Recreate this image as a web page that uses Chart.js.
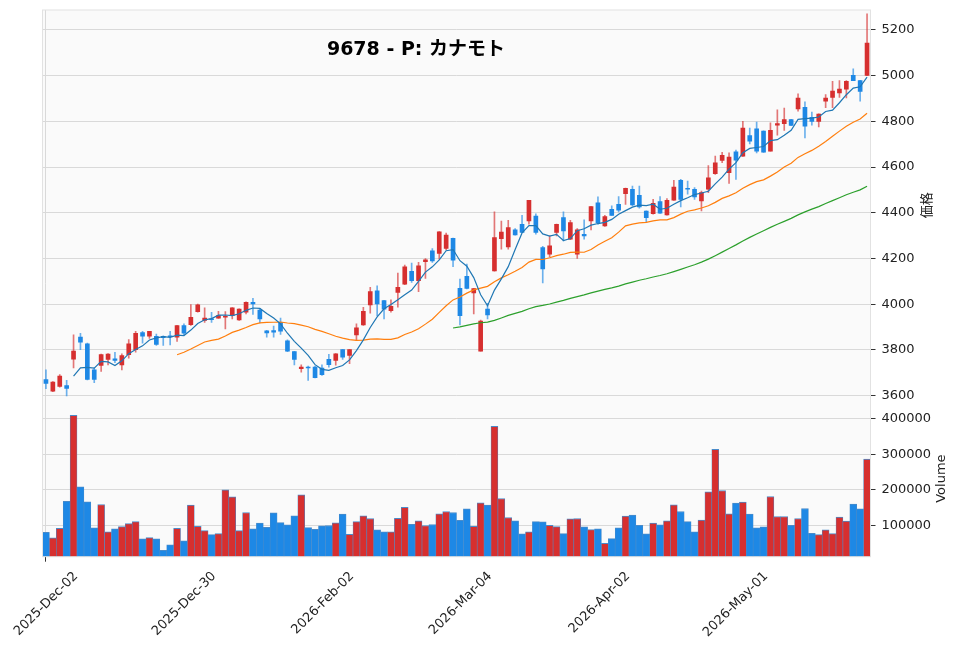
<!DOCTYPE html>
<html>
<head>
<meta charset="utf-8">
<title>9678 - P: カナモト</title>
<script src="https://cdn.jsdelivr.net/npm/chart.js@4.4.1/dist/chart.umd.min.js"></script>
<style>
    html, body { margin: 0; padding: 0; background: #ffffff; }
    canvas { display: block; }
</style>
</head>
<body>
<canvas id="myChart" width="960" height="651"></canvas>
<script>
var chartTitle = '9678 - P: カナモト';
var priceLabel = '価格';
var volumeLabel = 'Volume';

/* x axis: one label every 20 sessions */
var tickIndex = [0, 20, 40, 60, 80, 100];
var tickLabels = ['2025-Dec-02', '2025-Dec-30', '2026-Feb-02', '2026-Mar-04', '2026-Apr-02', '2026-May-01'];
var priceTicks = [3600, 3800, 4000, 4200, 4400, 4600, 4800, 5000, 5200];
var volumeTicks = [100000, 200000, 300000, 400000];

/* daily candles */
var opens = [
    3671, 3620, 3641, 3644, 3760, 3856, 3827, 3713, 3732, 3759,
    3761, 3735, 3779, 3801, 3876, 3860, 3860, 3860, 3862, 3856,
    3907, 3911, 3968, 3929, 3936, 3939, 3943, 3950, 3931, 3965,
    4008, 3975, 3884, 3885, 3921, 3840, 3793, 3718, 3725, 3725,
    3721, 3759, 3754, 3802, 3776, 3866, 3910, 3997, 4059, 4016,
    3972, 4052, 4088, 4144, 4103, 4186, 4234, 4222, 4244, 4288,
    4070, 4122, 4049, 3795, 3979, 4146, 4287, 4251, 4325, 4350,
    4364, 4386, 4248, 4219, 4314, 4379, 4285, 4219, 4306, 4364,
    4444, 4343, 4415, 4437, 4484, 4503, 4476, 4408, 4396, 4449,
    4391, 4455, 4542, 4507, 4503, 4452, 4503, 4571, 4629, 4575,
    4667, 4648, 4738, 4767, 4757, 4670, 4783, 4790, 4808, 4854,
    4861, 4818, 4800, 4888, 4905, 4924, 4941, 5001, 4978, 5001
];
var highs = [
    3713, 3662, 3692, 3667, 3866, 3873, 3830, 3722, 3782, 3784,
    3790, 3783, 3846, 3881, 3881, 3882, 3870, 3862, 3882, 3908,
    3914, 3998, 4001, 3984, 3965, 3969, 3968, 3985, 3980, 4011,
    4026, 3982, 3886, 3904, 3939, 3844, 3794, 3735, 3730, 3730,
    3735, 3781, 3784, 3803, 3803, 3914, 3987, 4074, 4081, 4017,
    4019, 4136, 4171, 4180, 4183, 4200, 4244, 4318, 4311, 4289,
    4110, 4176, 4070, 3931, 4004, 4404, 4364, 4367, 4331, 4389,
    4455, 4396, 4253, 4299, 4351, 4404, 4367, 4331, 4369, 4428,
    4470, 4389, 4430, 4471, 4508, 4517, 4517, 4409, 4459, 4471,
    4462, 4542, 4546, 4539, 4510, 4495, 4607, 4648, 4665, 4662,
    4674, 4800, 4771, 4797, 4758, 4793, 4850, 4858, 4809, 4920,
    4885, 4840, 4833, 4917, 4975, 4978, 4978, 5030, 4979, 5270
];
var lows = [
    3631, 3618, 3637, 3599, 3722, 3801, 3669, 3657, 3706, 3735,
    3744, 3713, 3764, 3790, 3830, 3851, 3820, 3820, 3822, 3837,
    3867, 3907, 3965, 3921, 3921, 3938, 3892, 3936, 3929, 3958,
    3955, 3918, 3856, 3856, 3868, 3793, 3735, 3703, 3667, 3678,
    3689, 3725, 3733, 3759, 3740, 3842, 3907, 3961, 3950, 3936,
    3965, 3987, 4086, 4096, 4055, 4113, 4183, 4197, 4238, 4164,
    3910, 4067, 3958, 3795, 3936, 4145, 4241, 4241, 4302, 4313,
    4350, 4306, 4093, 4207, 4299, 4277, 4282, 4200, 4285, 4325,
    4350, 4340, 4388, 4404, 4437, 4430, 4420, 4357, 4394, 4397,
    4390, 4454, 4426, 4481, 4459, 4408, 4488, 4568, 4619, 4529,
    4546, 4647, 4701, 4662, 4664, 4669, 4740, 4760, 4781, 4844,
    4728, 4783, 4776, 4860, 4860, 4905, 4902, 4978, 4888, 5000
];
var closes = [
    3654, 3660, 3686, 3632, 3795, 3834, 3671, 3671, 3780, 3782,
    3754, 3776, 3827, 3873, 3860, 3881, 3824, 3854, 3858, 3907,
    3873, 3943, 3997, 3940, 3932, 3950, 3946, 3984, 3979, 4008,
    4001, 3936, 3875, 3878, 3882, 3795, 3759, 3725, 3721, 3679,
    3692, 3736, 3783, 3769, 3802, 3897, 3969, 4055, 4001, 3979,
    3991, 4074, 4164, 4103, 4168, 4194, 4190, 4317, 4302, 4193,
    3950, 4069, 4069, 3926, 3953, 4292, 4316, 4335, 4303, 4314,
    4454, 4314, 4154, 4255, 4350, 4321, 4357, 4325, 4299, 4427,
    4357, 4383, 4389, 4411, 4507, 4434, 4426, 4379, 4441, 4398,
    4455, 4513, 4459, 4503, 4469, 4488, 4553, 4619, 4651, 4644,
    4630, 4771, 4713, 4670, 4665, 4761, 4790, 4808, 4782, 4902,
    4779, 4800, 4832, 4902, 4932, 4941, 4975, 4978, 4931, 5142
];
var volumes = [
    80200, 64300, 91500, 166900, 409500, 208200, 165900, 92500, 158400, 81200,
    89700, 96200, 104700, 110300, 61400, 65200, 61400, 29400, 44500, 91500,
    55800, 156500, 97100, 84900, 73600, 76500, 199700, 180000, 84900, 135700,
    89700, 105700, 94400, 134800, 107500, 100900, 126300, 185600, 93400, 88700,
    98100, 99100, 106600, 131000, 74700, 110300, 126300, 118800, 86800, 81200,
    81200, 119700, 150000, 102800, 112000, 99100, 101900, 132000, 138600, 135700,
    113800, 146100, 97100, 163100, 156500, 378400, 175300, 121700, 112200, 75500,
    81200, 110300, 109400, 100000, 96200, 76500, 117800, 118800, 95300, 87700,
    89700, 49200, 62400, 92500, 125400, 128300, 100000, 75500, 105700, 100900,
    112200, 157400, 138600, 110300, 81200, 114700, 194000, 313500, 197800, 132000,
    162200, 165000, 131000, 92500, 95300, 180900, 124500, 124500, 100000, 118800,
    147000, 77400, 73600, 86800, 76500, 122600, 111300, 159300, 146100, 286300
];

var maPeriods = [5, 20, 60];
var maColors = ['#1f77b4', '#ff7f0e', '#2ca02c'];

var upColor = '#d62f2f';
var downColor = '#1e88e5';
var upWick = 'rgba(214,47,47,0.65)';
var downWick = 'rgba(30,136,229,0.65)';
var gridColor = '#d9d9d9';
var fontFamily = '"DejaVu Sans", "Noto Sans CJK JP", sans-serif';

var chart;

function movingAverage(values, n) {
    var out = [];
    for (var i = 0; i < values.length; i++) {
        if (i < n - 1) {
            out.push(null);
            continue;
        }
        var sum = 0;
        for (var j = i - n + 1; j <= i; j++) {
            sum += values[j];
        }
        out.push(sum / n);
    }
    return out;
}

function isUp(i) {
    return closes[i] >= opens[i];
}

function isTick(index) {
    return tickIndex.indexOf(index) >= 0;
}

function drawVerticalText(ctx, text, x, y) {
    ctx.save();
    ctx.translate(x, y);
    ctx.rotate(-Math.PI / 2);
    ctx.textAlign = 'center';
    ctx.textBaseline = 'middle';
    ctx.fillText(text, 0, 0);
    ctx.restore();
}

var panelPlugin = {
    id: 'panel',
    beforeDraw: function(c) {
        var a = c.chartArea;
        var ctx = c.ctx;
        ctx.save();
        ctx.fillStyle = '#ffffff';
        ctx.fillRect(0, 0, c.width, c.height);
        ctx.fillStyle = '#fafafa';
        ctx.fillRect(a.left, a.top, a.right - a.left, a.bottom - a.top);
        ctx.restore();
    },
    afterDraw: function(c) {
        var a = c.chartArea;
        var ctx = c.ctx;
        ctx.save();
        ctx.strokeStyle = '#e2e2e2';
        ctx.lineWidth = 1;
        ctx.strokeRect(a.left, a.top, a.right - a.left, a.bottom - a.top);

        ctx.fillStyle = '#000000';
        ctx.font = 'bold 19px ' + fontFamily;
        ctx.textAlign = 'center';
        ctx.textBaseline = 'middle';
        ctx.fillText(chartTitle, 416, 50);

        ctx.fillStyle = '#222222';
        ctx.font = '13px ' + fontFamily;
        var yP = c.scales.y;
        var yV = c.scales.yv;
        drawVerticalText(ctx, priceLabel, 928, (yP.top + yP.bottom) / 2);
        drawVerticalText(ctx, volumeLabel, 942, (yV.top + yV.bottom) / 2);
        ctx.restore();
    }
};

function yAxis(min, max, weight, tickValues, label) {
    return {
        type: 'linear',
        position: 'right',
        stack: 'panels',
        stackWeight: weight,
        min: min,
        max: max,
        afterBuildTicks: function(s) {
            s.ticks = tickValues.map(function(v) { return { value: v }; });
        },
        afterFit: function(s) {
            s.width = 89.5;
            s.paddingTop = 0;
            s.paddingBottom = 0;
        },
        border: { display: false },
        grid: { color: gridColor, lineWidth: 1, tickColor: '#333333', tickLength: 5 },
        ticks: {
            padding: 6,
            color: '#222222',
            font: { family: fontFamily, size: 13 },
            callback: function(v) { return String(v); }
        }
    };
}

function showChart() {
    var labels = closes.map(function(c, i) { return i; });
    var datasets = [];

    maPeriods.forEach(function(n, k) {
        datasets.push({
            type: 'line',
            label: 'MA' + n,
            data: movingAverage(closes, n),
            yAxisID: 'y',
            borderColor: maColors[k],
            borderWidth: 1.2,
            pointRadius: 0,
            tension: 0,
            order: 0
        });
    });

    datasets.push({
        type: 'bar',
        label: 'body',
        data: opens.map(function(o, i) { return [o, closes[i]]; }),
        yAxisID: 'y',
        grouped: false,
        barThickness: 4,
        minBarLength: 1,
        backgroundColor: closes.map(function(c, i) { return isUp(i) ? upColor : downColor; }),
        order: 1
    });

    datasets.push({
        type: 'bar',
        label: 'wick',
        data: lows.map(function(l, i) { return [l, highs[i]]; }),
        yAxisID: 'y',
        grouped: false,
        barThickness: 1,
        backgroundColor: closes.map(function(c, i) { return isUp(i) ? upWick : downWick; }),
        order: 2
    });

    datasets.push({
        type: 'bar',
        label: 'Volume',
        data: volumes,
        yAxisID: 'yv',
        grouped: false,
        barPercentage: 1,
        categoryPercentage: 1,
        backgroundColor: closes.map(function(c, i) { return isUp(i) ? upColor : downColor; }),
        borderColor: '#4a8bc9',
        borderWidth: { top: 1, left: 0.6, right: 0.6, bottom: 0 },
        borderSkipped: 'bottom',
        order: 3
    });

    var options = {
        responsive: false,
        animation: false,
        layout: { padding: { left: 42.5, top: 10, right: 0, bottom: 0 } },
        plugins: {
            legend: { display: false },
            tooltip: { enabled: false }
        },
        scales: {
            x: {
                type: 'category',
                offset: true,
                border: { display: false },
                grid: {
                    offset: false,
                    lineWidth: 1,
                    tickLength: 5,
                    color: function(ctx) { return isTick(ctx.index) ? gridColor : 'rgba(0,0,0,0)'; },
                    tickColor: function(ctx) { return isTick(ctx.index) ? '#333333' : 'rgba(0,0,0,0)'; }
                },
                ticks: {
                    autoSkip: false,
                    minRotation: 45,
                    maxRotation: 45,
                    padding: 7,
                    labelOffset: 30,
                    color: '#222222',
                    font: { family: fontFamily, size: 13 },
                    callback: function(value, index) {
                        var k = tickIndex.indexOf(index);
                        return k < 0 ? null : tickLabels[k];
                    }
                },
                afterFit: function(s) {
                    s.height = 94.3;
                    s.paddingLeft = 0;
                    s.paddingRight = 0;
                }
            },
            y: yAxis(3579, 5287, 2.5, priceTicks, priceLabel),
            yv: yAxis(11400, 451000, 1, volumeTicks, volumeLabel)
        }
    };

    chart = new Chart(document.getElementById('myChart'), {
        type: 'bar',
        data: { labels: labels, datasets: datasets },
        options: options,
        plugins: [panelPlugin]
    });
}

showChart();
</script>
</body>
</html>
